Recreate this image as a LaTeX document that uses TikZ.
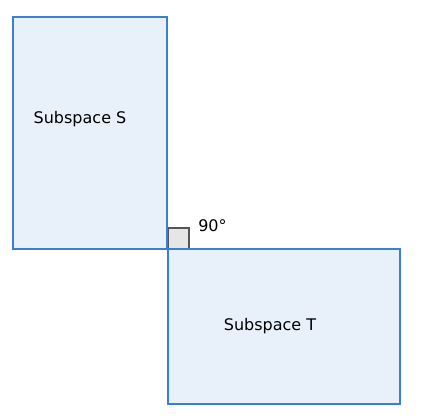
\documentclass[tikz,border=0pt]{standalone}
\usepackage{fontspec}
\setmainfont{DejaVu Sans}
\definecolor{sfill}{HTML}{E8F0FA}
\definecolor{sedge}{HTML}{3A7FD0}
\definecolor{qfill}{HTML}{E6E6E6}
\definecolor{qedge}{HTML}{555555}
\begin{document}
\begin{tikzpicture}[x=0.75pt,y=-0.75pt,
  subsp/.style={draw=sedge,fill=sfill,line width=1.5pt},
  rangle/.style={draw=qedge,fill=qfill,line width=1.5pt},
  lbl/.style={font=\fontsize{12}{14}\selectfont,inner sep=0pt}]
\useasboundingbox (0,0) rectangle (431,420);
\draw[rangle] (168,228) rectangle (189,249);
\draw[subsp] (13,17) rectangle (167,249);
\draw[subsp] (168,249) rectangle (400,404);
\node[lbl] (S) at (80,119) {Subspace S};
\node[lbl] (T) at (270,326) {Subspace T};
\node[lbl,anchor=west] (A) at (198,226) {90°};
\end{tikzpicture}
\end{document}
